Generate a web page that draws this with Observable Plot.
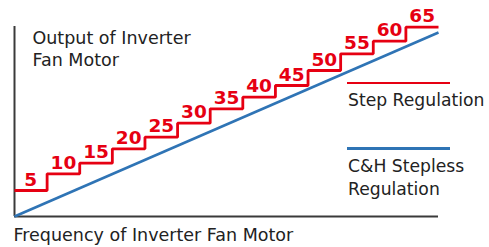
<!DOCTYPE html>
<html>
<head>
<meta charset="utf-8">
<script src="https://cdn.jsdelivr.net/npm/d3@7"></script>
<script src="https://cdn.jsdelivr.net/npm/@observablehq/plot@0.6"></script>
<style>
  html, body { margin: 0; padding: 0; background: #fff; }
  #wrap { position: relative; width: 489px; height: 247px; font-family: "DejaVu Sans", sans-serif; }
  #legend { position: absolute; left: 347px; top: 0; width: 142px; color: #222; font-size: 17.2px; line-height: 23px; }
  .item { position: absolute; left: 0; width: 142px; }
  .swatch { width: 103px; height: 2.6px; }
  .label { margin-left: 1px; white-space: nowrap; }
</style>
</head>
<body>
<div id="wrap"></div>
<script>
// Data
const stepIndex = [0, 1, 2, 3, 4, 5, 6, 7, 8, 9, 10, 11, 12];
const stepOutput = [26, 42.7, 53.3, 67.7, 79.3, 93.3, 107.7, 119.3, 131, 146, 162.7, 175.3, 189.3];
const stepLabels = [5, 10, 15, 20, 25, 30, 35, 40, 45, 50, 55, 60, 65];
const steplessFreq = [0, 13];
const steplessOutput = [0, 184];
const yTitle = "Output of Inverter\nFan Motor";
const xTitle = "Frequency of Inverter Fan Motor";
const legendNames = ["Step Regulation", "C&H Stepless\nRegulation"];

const RED = "#e60012";
const BLUE = "#2f74b5";
const AXIS = "#3a3a3a";
const TEXT = "#222";

const stepLine = stepIndex.map((i) => ({x: i, y: stepOutput[i]}));
stepLine.push({x: stepIndex.length, y: stepOutput[stepOutput.length - 1]});
const stepLabelData = stepIndex.map((i) => ({x: i + 0.5, y: stepOutput[i], label: String(stepLabels[i])}));
const stepless = steplessFreq.map((f, i) => ({x: f, y: steplessOutput[i]}));

const chart = Plot.plot({
  width: 489,
  height: 247,
  marginLeft: 14,
  marginRight: 51,
  marginTop: 26,
  marginBottom: 31,
  x: {domain: [0, 13], axis: null},
  y: {domain: [0, 190], axis: null},
  style: {fontFamily: "DejaVu Sans, sans-serif", background: "#fff", overflow: "visible"},
  marks: [
    Plot.ruleX([0], {y1: 0, y2: 190, stroke: AXIS, strokeWidth: 2}),
    Plot.ruleY([0], {x1: 0, x2: 13, stroke: AXIS, strokeWidth: 2}),
    Plot.line(stepless, {x: "x", y: "y", stroke: BLUE, strokeWidth: 2.6, strokeLinecap: "butt"}),
    Plot.line(stepLine, {x: "x", y: "y", curve: "step-after", stroke: RED, strokeWidth: 2.8, strokeLinecap: "butt", strokeLinejoin: "miter"}),
    Plot.text(stepLabelData, {x: "x", y: "y", text: "label", lineAnchor: "bottom", dy: -5, fill: RED, fontSize: 18.5, fontWeight: "bold"}),
    Plot.text([yTitle], {frameAnchor: "top-left", textAnchor: "start", lineAnchor: "top", dx: 18, dy: 1.5, fontSize: 17.5, lineHeight: 1.27, fill: TEXT}),
    Plot.text([xTitle], {frameAnchor: "bottom-left", textAnchor: "start", lineAnchor: "top", dx: -1, dy: 12.5, fontSize: 17.5, fill: TEXT})
  ]
});

const wrap = document.getElementById("wrap");
wrap.appendChild(chart);

// Legend (HTML, overlaid at the right)
const legend = document.createElement("div");
legend.id = "legend";
const legendColors = [RED, BLUE];
const legendTops = [81.5, 147];
const labelGaps = [4.5, 5.5];
legendNames.forEach((name, i) => {
  const item = document.createElement("div");
  item.className = "item";
  item.style.top = legendTops[i] + "px";
  const sw = document.createElement("div");
  sw.className = "swatch";
  sw.style.background = legendColors[i];
  const lab = document.createElement("div");
  lab.className = "label";
  lab.style.marginTop = labelGaps[i] + "px";
  lab.innerHTML = name.split("\n").map((s) => s.replace("&", "&amp;")).join("<br>");
  item.appendChild(sw);
  item.appendChild(lab);
  legend.appendChild(item);
});
wrap.appendChild(legend);
</script>
</body>
</html>
